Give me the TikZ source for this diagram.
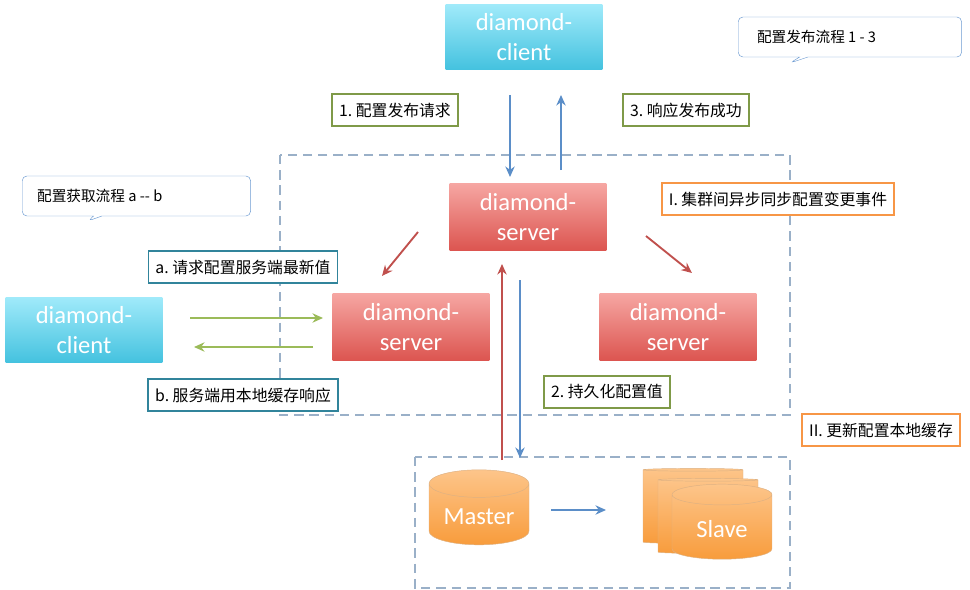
\documentclass[tikz,border=0pt]{standalone}
\usepackage{fontspec}
\setmainfont{Carlito}
\newfontfamily\cjk{Noto Sans CJK SC}
\usetikzlibrary{shapes.geometric, shapes.callouts, arrows.meta, positioning}
\definecolor{cyantop}{HTML}{A0EAFA}
\definecolor{cyanbot}{HTML}{44C2DF}
\definecolor{redtop}{HTML}{F6A6A2}
\definecolor{redbot}{HTML}{DC5550}
\definecolor{ortop}{HTML}{FDC58A}
\definecolor{orbot}{HTML}{F89C3C}
\definecolor{dashc}{HTML}{9AB0C8}
\definecolor{arrblue}{HTML}{5B8EC8}
\definecolor{arrred}{HTML}{C0504D}
\definecolor{arrgreen}{HTML}{9BBB59}
\definecolor{lgreen}{HTML}{7F9A48}
\definecolor{lteal}{HTML}{31849B}
\definecolor{lorange}{HTML}{F79646}
\definecolor{callc}{HTML}{6C9BD2}
\tikzset{
  client/.style={top color=cyantop, bottom color=cyanbot, draw=none, minimum width=4.7cm, minimum height=1.95cm, text=white, font=\fontsize{21}{25}\selectfont, align=center},
  server/.style={top color=redtop, bottom color=redbot, draw=none, minimum width=4.7cm, minimum height=2.0cm, text=white, font=\fontsize{21}{25}\selectfont, align=center},
  dbase/.style={cylinder, shape border rotate=90, aspect=0.35, top color=ortop, bottom color=orbot, draw=orbot!80!black!60, minimum width=3.0cm, minimum height=2.25cm, text=white, font=\fontsize{21}{25}\selectfont},
  lbl/.style={draw, line width=1.4pt, fill=white, font=\cjk\fontsize{13.5}{16}\selectfont, inner sep=6pt, minimum height=0.95cm},
  note/.style={rectangle callout, draw=callc, fill=white, rounded corners=4pt, font=\cjk\fontsize{12.5}{15}\selectfont, anchor=west, inner sep=8pt},
  region/.style={draw=dashc, line width=1.3pt, dash pattern=on 8pt off 5pt},
  flow/.style={-{Stealth[length=9pt,width=8pt]}, line width=1.6pt}
}
\begin{document}
\begin{tikzpicture}[x=0.03cm, y=-0.03cm]
	\useasboundingbox (0,0) rectangle (970,590);

	%regions
	\draw[region] (280,155) rectangle (790,415);
	\draw[region] (415,457) rectangle (790,588);

	%clients and servers
	\node[client] (ctop) at (524,37) {diamond-\\client};
	\node[client] (cleft) at (84,330) {diamond-\\client};
	\node[server] (smid) at (528,217) {diamond-\\server};
	\node[server] (sleft) at (411,327) {diamond-\\server};
	\node[server] (sright) at (678,327) {diamond-\\server};

	%databases
	\node[dbase] (master) at (479,517) {Master};
	\node[dbase] (slave3) at (693,507) {};
	\node[dbase] (slave2) at (708,517) {};
	\node[dbase] (slave) at (722,529) {Slave};

	%arrow ends
	\coordinate (p1a) at (510,95);  \coordinate (p1b) at (510,177);
	\coordinate (p3a) at (561,170); \coordinate (p3b) at (561,95);
	\coordinate (q1a) at (418,232); \coordinate (q1b) at (382,276);
	\coordinate (q2a) at (646,236); \coordinate (q2b) at (692,273);
	\coordinate (r1a) at (502,460); \coordinate (r1b) at (502,264);
	\coordinate (r2a) at (520,280); \coordinate (r2b) at (520,458);
	\coordinate (g1a) at (190,318); \coordinate (g1b) at (323,318);
	\coordinate (g2a) at (313,347); \coordinate (g2b) at (194,347);
	\coordinate (m1a) at (551,510); \coordinate (m1b) at (606,510);

	%arrows
	\draw[flow, arrblue] (p1a) -- (p1b);
	\draw[flow, arrblue] (p3a) -- (p3b);
	\draw[flow, arrred] (q1a) -- (q1b);
	\draw[flow, arrred] (q2a) -- (q2b);
	\draw[flow, arrred] (r1a) -- (r1b);
	\draw[flow, arrblue] (r2a) -- (r2b);
	\draw[flow, arrgreen] (g1a) -- (g1b);
	\draw[flow, arrgreen] (g2a) -- (g2b);
	\draw[flow, arrblue] (m1a) -- (m1b);

	%labels
	\node[lbl, draw=lgreen] (l1) at (395,110) {1.\ 配置发布请求};
	\node[lbl, draw=lgreen] (l3) at (686,110) {3.\ 响应发布成功};
	\node[lbl, draw=lgreen] (l2) at (607,392) {2.\ 持久化配置值};
	\node[lbl, draw=lorange] (lI) at (778,199) {I.\ 集群间异步同步配置变更事件};
	\node[lbl, draw=lorange] (lII) at (881,430) {II.\ 更新配置本地缓存};
	\node[lbl, draw=lteal] (la) at (243,267) {a.\ 请求配置服务端最新值};
	\node[lbl, draw=lteal] (lb) at (243,395) {b.\ 服务端用本地缓存响应};

	%notes
	\node[note, minimum width=6.7cm, minimum height=1.2cm, callout absolute pointer={(790,63)}] (n13) at (738,37) {配置发布流程 1 - 3\hspace*{2cm}};
	\node[note, minimum width=6.85cm, minimum height=1.2cm, callout absolute pointer={(88,221)}] (nab) at (22,196) {配置获取流程 a -- b\hspace*{2.2cm}};
\end{tikzpicture}
\end{document}
